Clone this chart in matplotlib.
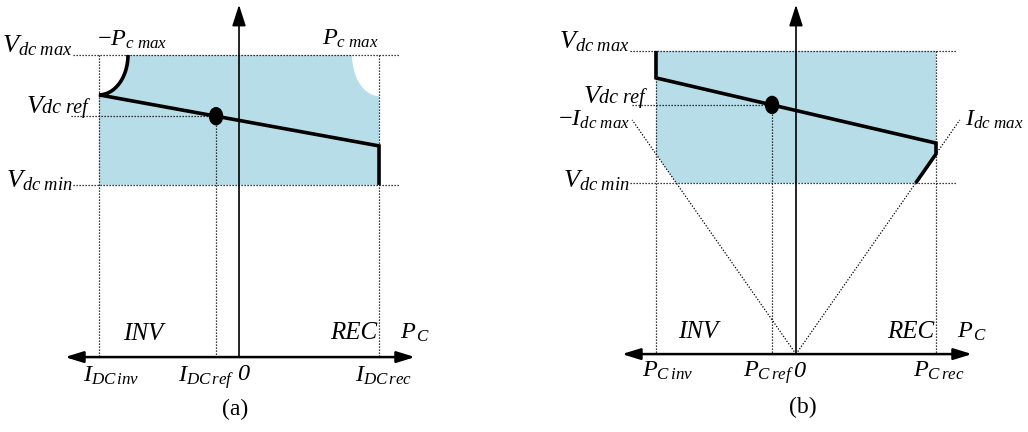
import numpy as np
import matplotlib
matplotlib.use("Agg")
import matplotlib.pyplot as plt
from matplotlib.patches import Polygon, Ellipse

plt.rcParams.update({
    "font.family": "Liberation Serif",
    "mathtext.fontset": "custom",
    "mathtext.it": "Liberation Serif:italic",
    "mathtext.rm": "Liberation Serif",
    "mathtext.bf": "Liberation Serif:bold",
})

FILL = "#b7dde8"
DOT = dict(color="black", lw=0.9, linestyle=(0, (1, 1.4)), zorder=3)
THICK = dict(color="black", lw=2.6, solid_capstyle="butt", solid_joinstyle="miter", zorder=4)
V_SIZE = 19
L_SIZE = 17.5
W_SIZE = 18

# ── (a) current control, V-I plane ────────────────────────────────────────────
a_i_inv, a_i_rec = -1.0, 1.0
a_i_ref = -0.164
a_v_max, a_v_min = 1.0, 0.570
a_droop = [0.868, 0.699]             # droop line voltage at I_inv / I_rec
a_pmin_rx, a_pmin_ry = 0.207, 0.132  # -Pc max limit curve (upper left)
a_pmax_rx, a_pmax_ry = 0.193, 0.136  # Pc max limit cut (upper right)
a_xaxis = (-1.243, 1.257)
a_ytop = 1.166
a_xlim = (-1.707, 1.964)
a_ylim = (-0.248, 1.182)

# ── (b) power control, V-P plane ──────────────────────────────────────────────
b_p_inv, b_p_rec = -1.0, 1.0
b_p_ref = -0.171
b_v_max, b_v_min = 1.0, 0.564
b_droop = [0.911, 0.696]
b_imax_slope = 0.66                  # V = slope * |P| along the +-Idc max limit
b_imax_reach = 1.17
b_xaxis = (-1.243, 1.257)
b_ytop = 1.152
b_xlim = (-2.014, 1.657)
b_ylim = (-0.257, 1.168)

fig = plt.figure(figsize=(10.28, 4.32), dpi=100)
ax_a = fig.add_axes([0, 0, 0.5, 1])
ax_b = fig.add_axes([0.5, 0, 0.5, 1])
for ax, xl, yl in [(ax_a, a_xlim, a_ylim), (ax_b, b_xlim, b_ylim)]:
    ax.set_xlim(*xl)
    ax.set_ylim(*yl)
    ax.axis("off")

renderer = fig.canvas.get_renderer()


def axes_arrows(ax, xaxis, ytop):
    ax.annotate("", xy=(0, ytop), xytext=(0, 0),
                arrowprops=dict(arrowstyle="-|>,head_length=1.3,head_width=0.42",
                                mutation_scale=10, lw=1.2, color="black",
                                shrinkA=0, shrinkB=0), zorder=5)
    ax.annotate("", xy=(xaxis[1], 0), xytext=(xaxis[0], 0),
                arrowprops=dict(arrowstyle="<|-|>,head_length=1.1,head_width=0.34",
                                mutation_scale=10, lw=1.8, color="black",
                                shrinkA=0, shrinkB=0), zorder=5)


def ref_label(ax, x, y, big="V", small="dc ref"):
    # "Vdc ref" is written with the suffix on the baseline, slightly smaller
    t = ax.text(x, y, small, fontsize=14.5, style="italic", ha="right", va="baseline")
    w_pt = t.get_window_extent(renderer).width * 72 / fig.dpi
    ax.annotate(big, xy=(x, y), xytext=(-w_pt, 0), textcoords="offset points",
                fontsize=V_SIZE, style="italic", ha="right", va="baseline")


def put(ax, items):
    for x, y, s, size, ha in items:
        ax.text(x, y, s, fontsize=size, ha=ha, va="baseline",
                style="italic" if not s.startswith("$") else "normal")


# ── panel (a) ────────────────────────────────────────────────────────────────
ax = ax_a
t = np.linspace(0, np.pi / 2, 60)
left_arc_x = a_i_inv + a_pmin_rx * np.cos(t)
left_arc_y = a_v_max - a_pmin_ry * np.sin(t)
right_cut_x = a_i_rec - a_pmax_rx * np.cos(t)
right_cut_y = a_v_max - a_pmax_ry * np.sin(t)

region = np.vstack([
    np.column_stack([left_arc_x[::-1], left_arc_y[::-1]]),
    np.column_stack([right_cut_x, right_cut_y]),
    [[a_i_rec, a_v_min], [a_i_inv, a_v_min]],
])
ax.add_patch(Polygon(region, closed=True, facecolor=FILL, edgecolor="none", zorder=1))

ax.plot([-1.186, 1.15], [a_v_max, a_v_max], **DOT)
ax.plot([-1.186, 1.15], [a_v_min, a_v_min], **DOT)
a_v_ref = np.interp(a_i_ref, [a_i_inv, a_i_rec], a_droop)
ax.plot([-1.2, a_i_ref], [a_v_ref, a_v_ref], **DOT)
for xi, top in [(a_i_inv, a_v_max), (a_i_rec, a_v_max), (a_i_ref, a_v_ref)]:
    ax.plot([xi, xi], [top, 0], **DOT)

ax.plot(np.concatenate([left_arc_x, [a_i_rec, a_i_rec]]),
        np.concatenate([left_arc_y, [a_droop[1], a_v_min]]), **THICK)
ax.add_patch(Ellipse((a_i_ref, a_v_ref), 13 / 140, 17 / 302, color="black", zorder=6))
axes_arrows(ax, a_xaxis, a_ytop)

put(ax, [
    (-1.186, 1.010, r"$V_{dc\ max}$", V_SIZE, "right"),
    (-1.186, 0.563, r"$V_{dc\ min}$", V_SIZE, "right"),
    (-1.014, 1.030, r"$-P_{c\ max}$", L_SIZE, "left"),
    (0.593, 1.033, r"$P_{c\ max}$", L_SIZE, "left"),
    (-0.829, 0.056, "INV", W_SIZE, "left"),
    (0.650, 0.060, "REC", W_SIZE, "left"),
    (1.150, 0.060, r"$P_{\,C}$", L_SIZE, "left"),
    (-1.114, -0.083, r"$I_{DC\,inv}$", L_SIZE, "left"),
    (-0.436, -0.083, r"$I_{DC\,ref}$", L_SIZE, "left"),
    (-0.014, -0.076, "0", L_SIZE, "left"),
    (0.829, -0.083, r"$I_{DC\,rec}$", L_SIZE, "left"),
])
ref_label(ax, -1.079, 0.808)
ax.text(-0.029, -0.172, "(a)", fontsize=17, ha="center", va="center")

# ── panel (b) ────────────────────────────────────────────────────────────────
ax = ax_b
b_v_knee = b_imax_slope * b_p_rec          # where the current limit meets P_rec
b_p_floor = b_v_min / b_imax_slope         # where the current limit meets V_min
region = [
    [b_p_inv, b_v_max], [b_p_rec, b_v_max], [b_p_rec, b_v_knee],
    [b_p_floor, b_v_min], [-b_p_floor, b_v_min], [b_p_inv, -b_imax_slope * b_p_inv],
]
ax.add_patch(Polygon(region, closed=True, facecolor=FILL, edgecolor="none", zorder=1))

ax.plot([-1.186, 1.15], [b_v_max, b_v_max], **DOT)
ax.plot([-1.186, 1.15], [b_v_min, b_v_min], **DOT)
b_v_ref = np.interp(b_p_ref, [b_p_inv, b_p_rec], b_droop)
ax.plot([-1.17, b_p_ref], [b_v_ref, b_v_ref], **DOT)
for xi, top in [(b_p_inv, b_v_max), (b_p_rec, b_v_max), (b_p_ref, b_v_ref)]:
    ax.plot([xi, xi], [top, 0], **DOT)
for sgn in (-1, 1):
    ax.plot([0, sgn * b_imax_reach], [0, b_imax_slope * b_imax_reach], **DOT)

ax.plot([b_p_inv, b_p_inv, b_p_rec, b_p_rec, b_p_floor],
        [b_v_max, b_droop[0], b_droop[1], b_v_knee, b_v_min], **THICK)
ax.add_patch(Ellipse((b_p_ref, b_v_ref), 13 / 140, 17 / 303, color="black", zorder=6))
axes_arrows(ax, b_xaxis, b_ytop)

put(ax, [
    (-1.186, 1.007, r"$V_{dc\ max}$", V_SIZE, "right"),
    (-1.186, 0.551, r"$V_{dc\ min}$", V_SIZE, "right"),
    (-1.186, 0.752, r"$-I_{dc\ max}$", L_SIZE, "right"),
    (1.207, 0.752, r"$I_{dc\ max}$", L_SIZE, "left"),
    (-0.843, 0.053, "INV", W_SIZE, "left"),
    (0.650, 0.053, "REC", W_SIZE, "left"),
    (1.150, 0.053, r"$P_{\,C}$", L_SIZE, "left"),
    (-1.100, -0.076, r"$P_{C\,inv}$", L_SIZE, "left"),
    (-0.379, -0.076, r"$P_{C\,ref}$", L_SIZE, "left"),
    (-0.021, -0.076, "0", L_SIZE, "left"),
    (0.836, -0.076, r"$P_{C\,rec}$", L_SIZE, "left"),
])
ref_label(ax, -1.079, 0.828)
ax.text(0.05, -0.175, "(b)", fontsize=17, ha="center", va="center")

fig.savefig("out.png", dpi=100)
